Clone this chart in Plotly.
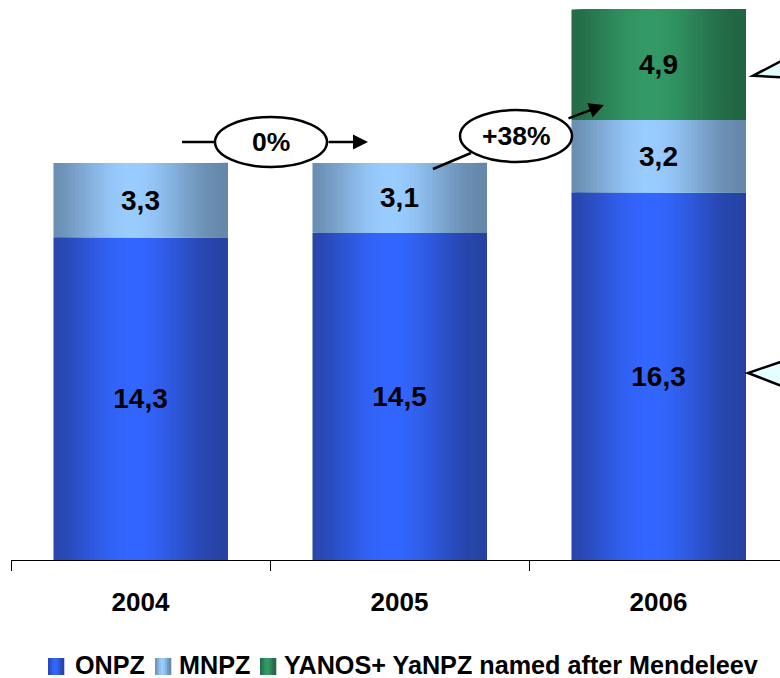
import math
import plotly.graph_objects as go

# ---- data ---------------------------------------------------------------
years = ["2004", "2005", "2006"]
onpz = [14.3, 14.5, 16.3]
mnpz = [3.3, 3.1, 3.2]
yanos = [None, None, 4.9]
series_names = ["ONPZ", "MNPZ", "YANOS+ YaNPZ named after Mendeleev"]
growth_labels = ["0%", "+38%"]

# ---- page geometry (pixels) ---------------------------------------------
W_PX, H_PX = 780, 678
L, T, PW, PH = 11, 0, 769, 560          # plot area
Y_MAX = 24.82                           # value at top edge of plot area
BAR_W = 0.672                           # bar width in category units
N_SLICES = 48                           # vertical strips per bar for shading

FONT = "Liberation Sans, Arial, sans-serif"


def px(x):
    return (x - L) / PW


def py(y):
    return (T + PH - y) / PH


def mix(c0, c1, w):
    return "rgb({},{},{})".format(*[round(a + (b - a) * w) for a, b in zip(c0, c1)])


def glow(t):
    # brightness across a bar: dark edges, bright band slightly left of centre
    u = (t - 0.45) / 0.55
    if abs(u) >= 1:
        return 0.0
    return 0.5 * (1 + math.cos(math.pi * u))


palette = {
    "ONPZ": ((0x26, 0x42, 0xa4), (0x33, 0x66, 0xff)),
    "MNPZ": ((0x66, 0x88, 0xaa), (0x99, 0xcc, 0xff)),
    "YANOS": ((0x22, 0x66, 0x44), (0x33, 0x99, 0x66)),
}


def fmt(v):
    return "" if v is None else f"{v:.1f}".replace(".", ",")


def add(a, b):
    return [(x or 0) + (y or 0) for x, y in zip(a, b)]


base_onpz = [0, 0, 0]
base_mnpz = add(base_onpz, onpz)
base_yanos = add(base_mnpz, mnpz)

stack = [
    ("ONPZ", onpz, base_onpz),
    ("MNPZ", mnpz, base_mnpz),
    ("YANOS", yanos, base_yanos),
]

fig = go.Figure()

# shaded bar segments: each strip runs from its left edge to the bar's right edge
for key, vals, base in stack:
    edge, centre = palette[key]
    for i in range(N_SLICES):
        t = (i + 0.5) / N_SLICES
        fig.add_trace(go.Bar(
            x=years, y=vals, base=base,
            width=(N_SLICES - i) * BAR_W / N_SLICES,
            offset=-BAR_W / 2 + i * BAR_W / N_SLICES,
            marker=dict(color=mix(edge, centre, glow(t)), line=dict(width=0)),
            showlegend=False, hoverinfo="skip",
        ))

# value labels
for key, vals, base in stack:
    fig.add_trace(go.Bar(
        x=years, y=vals, base=base, width=BAR_W,
        marker=dict(color="rgba(0,0,0,0)", line=dict(width=0)),
        text=[fmt(v) for v in vals],
        textposition="inside", insidetextanchor="middle",
        constraintext="none", textangle=0,
        textfont=dict(family=FONT, size=28, color="black", weight="bold"),
        showlegend=False, hoverinfo="skip",
    ))

shapes = []
annotations = []

# growth ellipses with their connectors
ellipses = [(215, 327, 117, 167, 271, 142), (460, 572, 110, 162, 516, 136)]
for (x0, x1, y0, y1, cx, cy), lab in zip(ellipses, growth_labels):
    shapes.append(dict(type="circle", xref="paper", yref="paper",
                       x0=px(x0), x1=px(x1), y0=py(y1), y1=py(y0),
                       fillcolor="white", line=dict(color="black", width=2.5)))
    annotations.append(dict(xref="paper", yref="paper", x=px(cx), y=py(cy),
                            xanchor="center", yanchor="middle",
                            text=lab, showarrow=False,
                            font=dict(family=FONT, size=26.5, color="black", weight="bold")))

for (xa, ya, xb, yb) in [(182, 142, 215, 142), (433, 169, 471, 153)]:
    shapes.append(dict(type="line", xref="paper", yref="paper",
                       x0=px(xa), y0=py(ya), x1=px(xb), y1=py(yb),
                       line=dict(color="black", width=2.5)))

for (tx, ty, sx, sy) in [(368, 142, 327, 142), (604, 105, 567, 119)]:
    annotations.append(dict(xref="paper", yref="paper", x=px(tx), y=py(ty),
                            ax=sx - tx, ay=sy - ty, axref="pixel", ayref="pixel",
                            text="", showarrow=True, arrowhead=2, arrowsize=1.2,
                            arrowwidth=2.5, arrowcolor="black", standoff=0))

# callout pointers at the right edge
for pts in [[(792, 55.5), (753, 75.7), (792, 77.8)],
            [(792, 358), (748, 373), (792, 390)]]:
    d = "M " + " L ".join(f"{px(x)},{py(y)}" for x, y in pts) + " Z"
    shapes.append(dict(type="path", xref="paper", yref="paper", path=d,
                       fillcolor="#e4ffff", line=dict(color="black", width=2.5)))

# legend
legend_items = [(48, 73, "ONPZ"), (155, 177, "MNPZ"), (260, 282, "YANOS")]
for (mx, tx, key), name in zip(legend_items, series_names):
    edge, centre = palette[key]
    n = 8
    for i in range(n):
        t = (i + 0.5) / n
        shapes.append(dict(type="rect", xref="paper", yref="paper",
                           x0=px(mx + i * 2), x1=px(mx + (i + 1) * 2 + 0.3),
                           y0=py(675), y1=py(658),
                           fillcolor=mix(edge, centre, glow(t)), line=dict(width=0)))
    annotations.append(dict(xref="paper", yref="paper", x=px(tx), y=py(665),
                            xanchor="left", yanchor="middle", text=name,
                            showarrow=False,
                            font=dict(family=FONT, size=25.2, color="black", weight="bold")))

fig.update_layout(
    width=W_PX, height=H_PX,
    margin=dict(l=L, r=W_PX - L - PW, t=T, b=H_PX - T - PH),
    barmode="overlay",
    paper_bgcolor="white", plot_bgcolor="white",
    showlegend=False,
    shapes=shapes, annotations=annotations,
    xaxis=dict(
        type="category", range=[-0.5, -0.5 + PW / 259],
        showline=True, linecolor="black", linewidth=1,
        ticks="outside", tickson="boundaries", ticklen=10,
        tickcolor="black", tickwidth=1, showgrid=False, zeroline=False,
        ticklabelstandoff=19,
        tickfont=dict(family=FONT, size=26, color="black", weight="bold"),
    ),
    yaxis=dict(range=[0, Y_MAX], visible=False, showgrid=False, zeroline=False),
)

fig.write_html("out.html")
